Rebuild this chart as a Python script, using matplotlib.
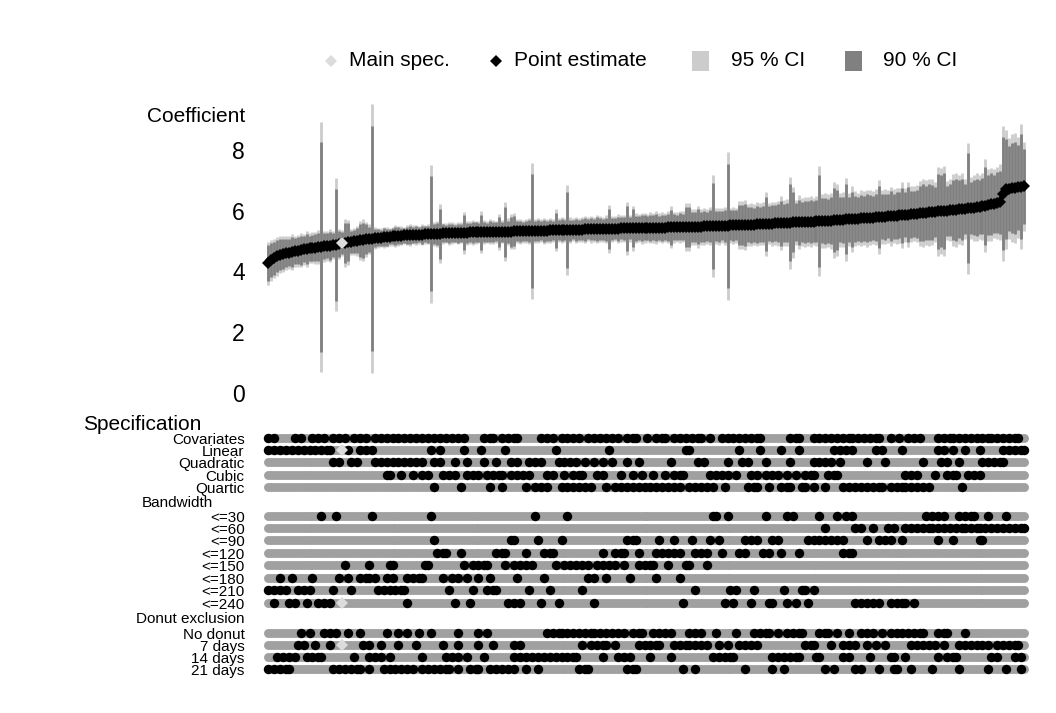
import numpy as np
import matplotlib
matplotlib.use("Agg")
import matplotlib.pyplot as plt
from matplotlib.patches import Rectangle

plt.rcParams['font.family'] = ['Liberation Sans', 'DejaVu Sans']

# point estimates, sorted (256 specifications)
estimate = [
    4.26, 4.36, 4.43, 4.49, 4.54, 4.57, 4.60, 4.62, 4.64, 4.66, 4.68, 4.70, 4.72, 4.74, 4.76, 4.77,
    4.78, 4.80, 4.81, 4.82, 4.84, 4.85, 4.87, 4.88, 4.90, 4.93, 4.94, 4.96, 4.97, 4.99, 5.00, 5.02,
    5.03, 5.05, 5.06, 5.08, 5.09, 5.10, 5.11, 5.12, 5.13, 5.14, 5.15, 5.16, 5.17, 5.17, 5.18, 5.19,
    5.19, 5.20, 5.20, 5.21, 5.21, 5.22, 5.22, 5.23, 5.23, 5.24, 5.24, 5.25, 5.25, 5.25, 5.26, 5.26,
    5.26, 5.27, 5.27, 5.27, 5.28, 5.28, 5.28, 5.29, 5.29, 5.29, 5.29, 5.30, 5.30, 5.30, 5.30, 5.31,
    5.31, 5.31, 5.31, 5.32, 5.32, 5.32, 5.32, 5.33, 5.33, 5.33, 5.33, 5.34, 5.34, 5.34, 5.34, 5.35,
    5.35, 5.35, 5.35, 5.36, 5.36, 5.36, 5.36, 5.37, 5.37, 5.37, 5.37, 5.38, 5.38, 5.38, 5.38, 5.39,
    5.39, 5.39, 5.39, 5.40, 5.40, 5.40, 5.40, 5.41, 5.41, 5.41, 5.41, 5.42, 5.42, 5.42, 5.42, 5.43,
    5.43, 5.43, 5.43, 5.44, 5.44, 5.44, 5.44, 5.45, 5.45, 5.45, 5.45, 5.46, 5.46, 5.46, 5.46, 5.47,
    5.47, 5.47, 5.47, 5.48, 5.48, 5.48, 5.49, 5.49, 5.49, 5.50, 5.50, 5.50, 5.51, 5.51, 5.51, 5.52,
    5.52, 5.53, 5.53, 5.54, 5.54, 5.55, 5.55, 5.56, 5.56, 5.57, 5.57, 5.58, 5.58, 5.59, 5.59, 5.60,
    5.60, 5.61, 5.61, 5.62, 5.62, 5.63, 5.63, 5.64, 5.64, 5.65, 5.65, 5.66, 5.66, 5.67, 5.67, 5.68,
    5.69, 5.69, 5.70, 5.71, 5.71, 5.72, 5.73, 5.73, 5.74, 5.75, 5.75, 5.76, 5.77, 5.78, 5.78, 5.79,
    5.80, 5.81, 5.81, 5.82, 5.83, 5.84, 5.85, 5.86, 5.87, 5.88, 5.89, 5.90, 5.91, 5.92, 5.93, 5.94,
    5.95, 5.96, 5.97, 5.98, 5.99, 6.00, 6.01, 6.02, 6.03, 6.04, 6.05, 6.06, 6.07, 6.08, 6.09, 6.11,
    6.12, 6.14, 6.16, 6.18, 6.20, 6.22, 6.25, 6.28, 6.55, 6.70, 6.72, 6.74, 6.75, 6.76, 6.78, 6.80,
]

# standard errors, same order
std_err = [
    0.36, 0.34, 0.33, 0.32, 0.31, 0.30, 0.28, 0.27, 0.30, 0.26, 0.27, 0.29, 0.26, 0.30, 0.25, 0.26,
    0.27, 0.28, 2.10, 0.26, 0.25, 0.28, 0.24, 1.12, 0.25, 0.22, 0.40, 0.38, 0.22, 0.23, 0.25, 0.33,
    0.35, 0.30, 0.25, 2.25, 0.18, 0.17, 0.16, 0.18, 0.17, 0.15, 0.16, 0.18, 0.17, 0.16, 0.15, 0.17,
    0.18, 0.16, 0.17, 0.15, 0.18, 0.16, 0.17, 1.15, 0.20, 0.22, 0.50, 0.18, 0.17, 0.19, 0.18, 0.17,
    0.19, 0.18, 0.35, 0.20, 0.19, 0.21, 0.20, 0.19, 0.35, 0.20, 0.19, 0.21, 0.20, 0.19, 0.30, 0.20,
    0.50, 0.22, 0.30, 0.30, 0.20, 0.21, 0.19, 0.20, 0.22, 1.14, 0.20, 0.21, 0.19, 0.22, 0.20, 0.21,
    0.19, 0.35, 0.20, 0.22, 0.20, 0.75, 0.21, 0.19, 0.22, 0.20, 0.21, 0.23, 0.20, 0.22, 0.21, 0.24,
    0.22, 0.21, 0.23, 0.40, 0.22, 0.21, 0.24, 0.22, 0.23, 0.45, 0.22, 0.38, 0.25, 0.24, 0.26, 0.25,
    0.24, 0.26, 0.25, 0.27, 0.24, 0.26, 0.25, 0.27, 0.35, 0.26, 0.25, 0.27, 0.26, 0.40, 0.40, 0.30,
    0.30, 0.35, 0.30, 0.31, 0.29, 0.32, 0.86, 0.30, 0.31, 0.29, 0.32, 1.24, 0.30, 0.31, 0.30, 0.40,
    0.40, 0.42, 0.35, 0.36, 0.34, 0.37, 0.35, 0.36, 0.54, 0.35, 0.37, 0.36, 0.38, 0.45, 0.38, 0.39,
    0.77, 0.60, 0.38, 0.45, 0.40, 0.42, 0.41, 0.43, 0.40, 0.42, 0.92, 0.45, 0.46, 0.44, 0.47, 0.64,
    0.60, 0.45, 0.46, 0.70, 0.45, 0.55, 0.46, 0.44, 0.47, 0.45, 0.48, 0.46, 0.44, 0.47, 0.62, 0.45,
    0.46, 0.44, 0.50, 0.45, 0.47, 0.46, 0.55, 0.45, 0.55, 0.47, 0.46, 0.48, 0.55, 0.57, 0.54, 0.56,
    0.55, 0.50, 0.75, 0.72, 0.76, 0.50, 0.52, 0.60, 0.62, 0.58, 0.61, 0.50, 1.10, 0.52, 0.55, 0.57,
    0.54, 0.56, 0.78, 0.60, 0.62, 0.58, 0.61, 0.63, 1.13, 1.00, 0.85, 0.90, 0.92, 0.85, 1.05, 0.75,
]

main_spec = 25
main_rows = ["Linear", "<=240", "7 days"]

row_labels = ["Covariates", "Linear", "Quadratic", "Cubic", "Quartic",
              "<=30", "<=60", "<=90", "<=120", "<=150", "<=180", "<=210", "<=240",
              "No donut", "7 days", "14 days", "21 days"]

# specs where each option is switched on ("a-b" = every other spec from a to b)
covariates = ("0-2 9-11 15-19 22-24 26 29-33 36-66 73-76 79-84 92-96 99 101-105 108-118 "
              "121-124 128 131-134 137-141 143-146 149 153-166 176-179 184-197 199-206 "
              "210 213 216-220 226 228-231 233-244 246-253")
linear = ("0-21 27 31-35 55 58 66 72 80 97 115 141-142 159 166 173 179 191-197 205-207 "
          "214 226-228 231 235 240 248-255")
quadratic = ("22-24 28-30 36-52 56-58 63 67 73 77 82 84 88-92 98 100-104 107 110 113 116 "
             "121 125 136 145-147 155 160-162 168 176 184-190 193 202 208 221 227-229 233 241-248")
cubic = ("40-41 45 49 52-54 59-63 67-71 74-79 82-88 94-96 100 103-106 111-113 119 123 126 "
         "130 134 137-140 149-155 158 163 165 168-172 175 178 181-184 189-192 215-219 225 "
         "229-232 236-240")
quartic = ("56 65 75 79 87 90-94 99-109 114 117-123 125-139 142-150 154 162-165 169 173-176 "
           "180-181 184 188 194-207 210-215 217-223 234")
bw_30 = "18 23 35 55 90 101 150-151 155 168 175-177 186 192 195-197 222-226 228 233-238 243 249"
bw_60 = "188 198-200 204 209-211 215-224 226-235 237-240 242-255"
bw_90 = "56 82-83 91 99 121-124 132 137 143 149 152 161-165 170-172 182-194 202 206-210 214 226 231 240-241"
bw_120 = "57-60 65 77-80 87 93-96 113 117-120 125 131-139 144-148 153 159-161 167 169 173 179 194-197"
bw_150 = "26 34 41-42 53-54 66 69-74 80 83 85-89 97 100-108 111-117 120 125-130 135 141-142 148"
bw_180 = "4 8 15 24 27 31-34 36 40 42 47-52 59 62 64 67 71 75 84 93 108-110 114 122 131 139"
bw_210 = "0-6 10-14 22 28 37-46 61 69 74-77 88 95 106 144 156-158 164 174 180-181 184"
bw_240 = ("2 7-9 13 17-21 47 63 68 81-85 92 98 110 140 154 157 163 169-170 175 178 182 "
          "198-206 210-215 218")
no_donut = ("11 14 19 21 23 27 31 40 44 47 51 55 64 71 74 94-99 101-105 107-110 112-118 120 "
            "123-126 130-136 142-146 151 158 164-169 172 175-180 186-189 192 196 200-202 204 "
            "207 210-216 218-221 226-229 235")
donut_7 = ("10-12 16 21 32-34 38 44 50 59 64 71 76 83-85 106 109-114 117 125-132 137-142 "
           "144-148 152 155 159-165 181-184 190 194-198 202 205 208 217-225 228 233-243 246-253")
donut_14 = ("3-9 13-18 29 34-38 41 52 60-64 67 73 83 85-97 99-104 113 118-122 129 136 150-157 "
            "170-179 185-186 194-196 203 210-211 215 226 229-232 244-246 252 254")
donut_21 = ("0-7 22-31 34 39-49 52-61 64 68-71 75-83 87 91 105-108 121-124 140 144 161 170 174 "
            "188 191 198-200 206 211-212 217 224 233 243 249 254")

row_specs = [covariates, linear, quadratic, cubic, quartic,
             bw_30, bw_60, bw_90, bw_120, bw_150, bw_180, bw_210, bw_240,
             no_donut, donut_7, donut_14, donut_21]


def parse(s):
    out = set()
    for tok in s.split():
        if "-" in tok:
            a, b = map(int, tok.split("-"))
            out.update(range(a, b + 1, 2))
            out.add(b)
        else:
            out.add(int(tok))
    out.discard(main_spec)
    return sorted(out)


n = len(estimate)
idx = np.arange(n)
est = np.array(estimate)
se = np.array(std_err)

# layout (pixels of the 1056x713 canvas)
W, H = 1056, 713
row_y = [438, 450, 462, 475, 487, 516, 528, 540, 553, 565, 578, 590, 603, 633, 645, 657, 669]
x0, x1 = -2.7, 257.7

fig = plt.figure(figsize=(W / 100, H / 100), dpi=100)

ov = fig.add_axes([0, 0, 1, 1])
ov.set_xlim(0, W)
ov.set_ylim(H, 0)
ov.axis("off")

# coefficient panel
ax = fig.add_axes([260 / W, (H - 400) / H, 772 / W, 305 / H])
ax.vlines(idx, est - 1.96 * se, est + 1.96 * se, color="#cccccc", lw=2.0)
ax.vlines(idx, est - 1.645 * se, est + 1.645 * se, color="#808080", lw=2.0)
ax.plot(idx, est, "D", color="black", ms=6.3, mew=0, ls="none")
ax.plot(idx[main_spec], est[main_spec], "D", color="#dcdcdc", ms=6.3, mew=0)
ax.set_xlim(x0, x1)
ax.set_ylim(-0.23, 9.8)
ax.set_yticks([0, 2, 4, 6, 8])
ax.set_xticks([])
ax.tick_params(axis="y", length=0, labelsize=16.5, pad=11)
for sp in ax.spines.values():
    sp.set_visible(False)

# specification panel
bx = fig.add_axes([260 / W, (H - 680) / H, 772 / W, 252 / H])
for label, spec, y in zip(row_labels, row_specs, row_y):
    bx.plot(idx, np.full(n, y), "o", color="#a0a0a0", ms=6.4, mew=0, ls="none")
    on = parse(spec)
    bx.plot(on, np.full(len(on), y), "o", color="black", ms=6.8, mew=0, ls="none")
    if label in main_rows:
        bx.plot([main_spec], [y], "D", color="#dcdcdc", ms=6.4, mew=0)
bx.set_xlim(x0, x1)
bx.set_ylim(680, 428)
bx.set_yticks(row_y)
bx.set_yticklabels(row_labels)
bx.set_xticks([])
bx.tick_params(axis="y", length=0, labelsize=11, pad=11)
for sp in bx.spines.values():
    sp.set_visible(False)

# titles
ov.text(245, 117, "Coefficient", fontsize=15, ha="right", va="center")
ov.text(83, 424, "Specification", fontsize=15, ha="left", va="center")
ov.text(213, 503, "Bandwidth", fontsize=11, ha="right", va="center")
ov.text(245, 619, "Donut exclusion", fontsize=11, ha="right", va="center")

# legend
ov.plot([331], [61], "D", color="#dcdcdc", ms=6, mew=0)
ov.text(349, 61, "Main spec.", fontsize=15, va="center")
ov.plot([496], [61], "D", color="black", ms=6, mew=0)
ov.text(514, 61, "Point estimate", fontsize=15, va="center")
ov.add_patch(Rectangle((692, 51), 17, 20, color="#cccccc", lw=0))
ov.text(731, 61, "95 % CI", fontsize=15, va="center")
ov.add_patch(Rectangle((845, 51), 17, 20, color="#808080", lw=0))
ov.text(883, 61, "90 % CI", fontsize=15, va="center")

fig.savefig("out.png", dpi=100)
